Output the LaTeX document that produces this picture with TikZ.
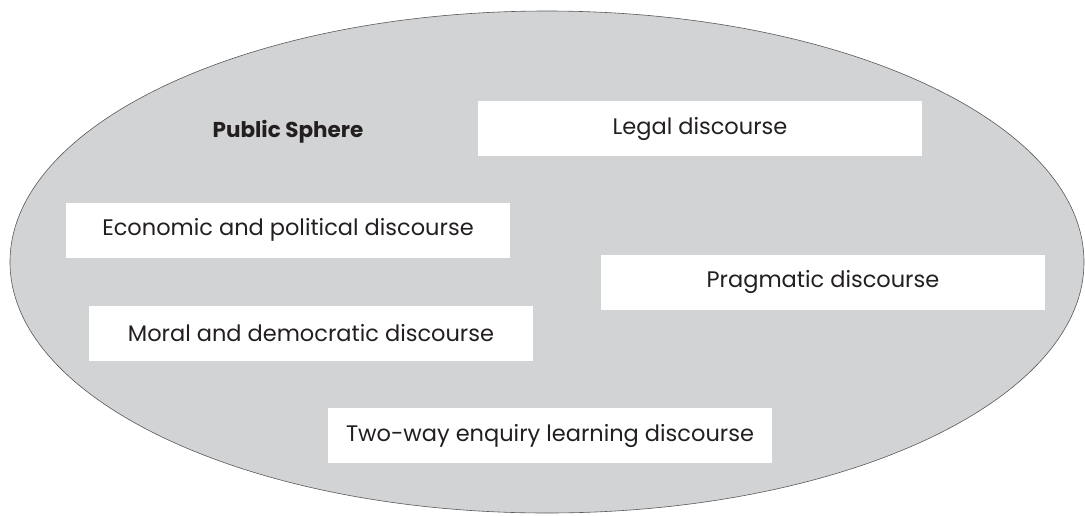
\documentclass[tikz,border=0pt]{standalone}
\usepackage{fontspec}
\setmainfont{Poppins}
\usetikzlibrary{shapes.geometric}
\definecolor{spherefill}{HTML}{D1D3D4}
\definecolor{txt}{HTML}{231F20}
\definecolor{rim}{HTML}{58595B}
\begin{document}
\begin{tikzpicture}[x=1pt,y=-1pt,
  discbox/.style={fill=white,minimum width=444pt,minimum height=55pt,inner sep=0pt,
    text=txt,font=\fontsize{22.5}{24}\selectfont},
  title/.style={text=txt,font=\fontsize{21.5}{24}\selectfont\bfseries,inner sep=0pt}]
\useasboundingbox (0,0) rectangle (1085,515);
\node[ellipse,draw=rim,line width=0.6pt,fill=spherefill,minimum width=1074pt,minimum height=502pt,inner sep=0pt] (sphere) at (547,262) {};
\node[title] (ps) at (288,132) {Public Sphere};
\node[discbox] (legal) at (700,128.5) {Legal discourse};
\node[discbox] (econ) at (288,230) {Economic and political discourse};
\node[discbox] (prag) at (823,282) {Pragmatic discourse};
\node[discbox] (moral) at (311,333.5) {Moral and democratic discourse};
\node[discbox] (two) at (550,435.5) {Two-way enquiry learning discourse};
\end{tikzpicture}
\end{document}
